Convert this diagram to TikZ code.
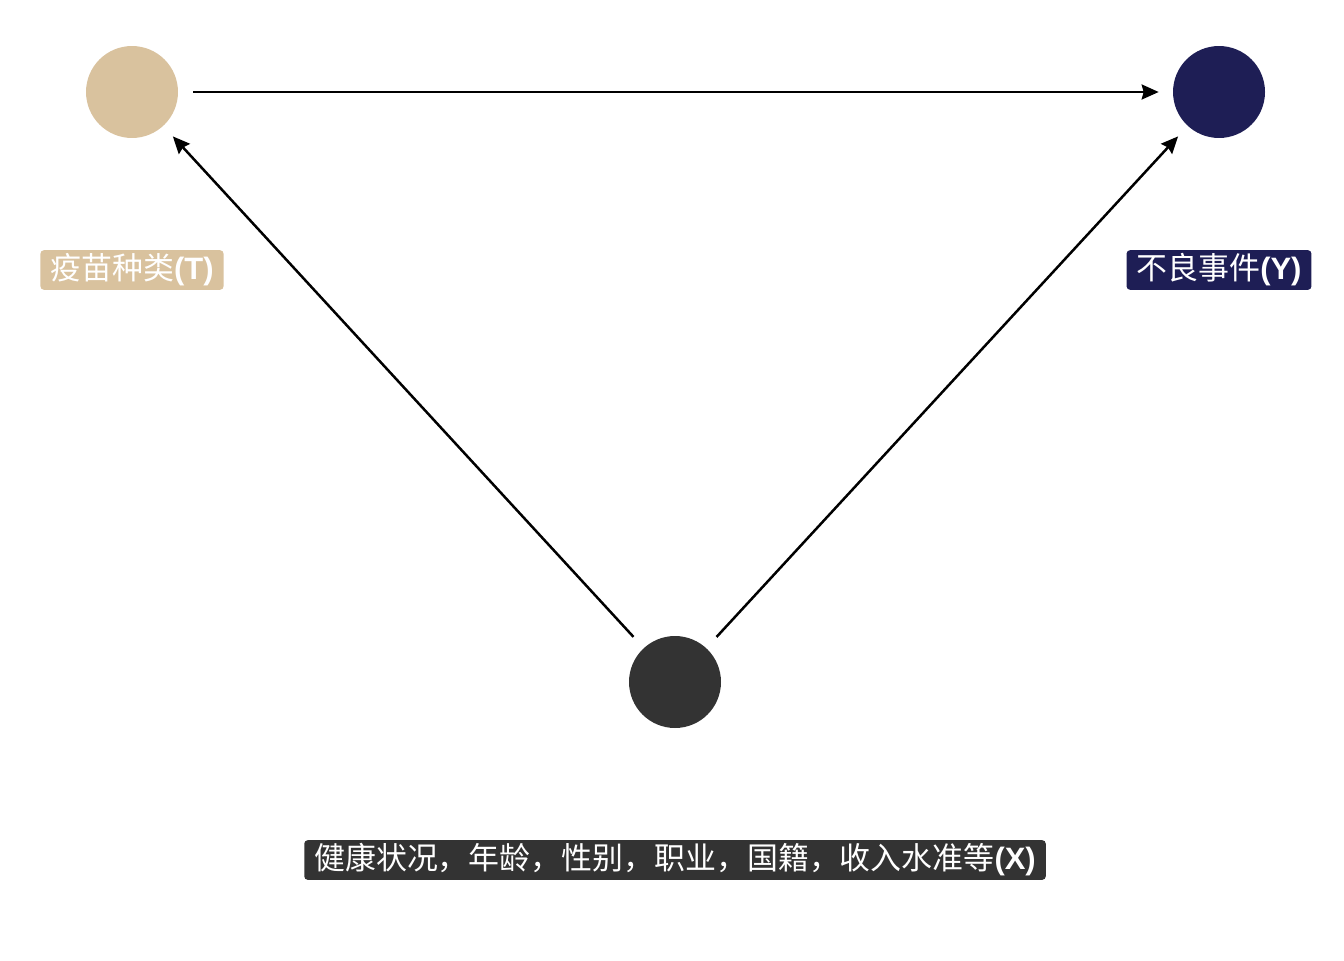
\documentclass[tikz,border=0pt]{standalone}
\usepackage{fontspec}
\setmainfont{Liberation Sans}
\newfontfamily\cjk{Noto Sans CJK SC}
\usetikzlibrary{arrows.meta}

\definecolor{vaccine}{HTML}{D9C29E}
\definecolor{event}{HTML}{1E1E55}
\definecolor{covar}{HTML}{333333}

\tikzset{
    dot/.style={circle, minimum size=1.84cm, inner sep=0pt},
    tag/.style={rounded corners=2pt, text=white, inner xsep=0.2cm, inner ysep=0.07cm,
        font=\fontsize{17.6}{20}\selectfont},
    edge/.style={-{Stealth[length=0.34cm, width=0.3cm, inset=0.04cm]}, line width=0.05cm,
        shorten <=0.3cm, shorten >=0.28cm}
}

\begin{document}
\begin{tikzpicture}[x=0.02cm, y=-0.02cm]
    \useasboundingbox (0,0) rectangle (1344,960);
    \node[dot, fill=vaccine] (T) at (132,92) {};
    \node[dot, fill=event] (Y) at (1219,92) {};
    \node[dot, fill=covar] (X) at (675,682) {};

    \node[tag, fill=vaccine] (Tlab) at (132,270) {{\cjk 疫苗种类}\textbf{(T)}};
    \node[tag, fill=event] (Ylab) at (1219,270) {{\cjk 不良事件}\textbf{(Y)}};
    \node[tag, fill=covar] (Xlab) at (675,860) {{\cjk 健康状况，年龄，性别，职业，国籍，收入水准等}\textbf{(X)}};

    \draw[edge] (T) -- (Y);
    \draw[edge] (X) -- (T);
    \draw[edge] (X) -- (Y);
\end{tikzpicture}
\end{document}
